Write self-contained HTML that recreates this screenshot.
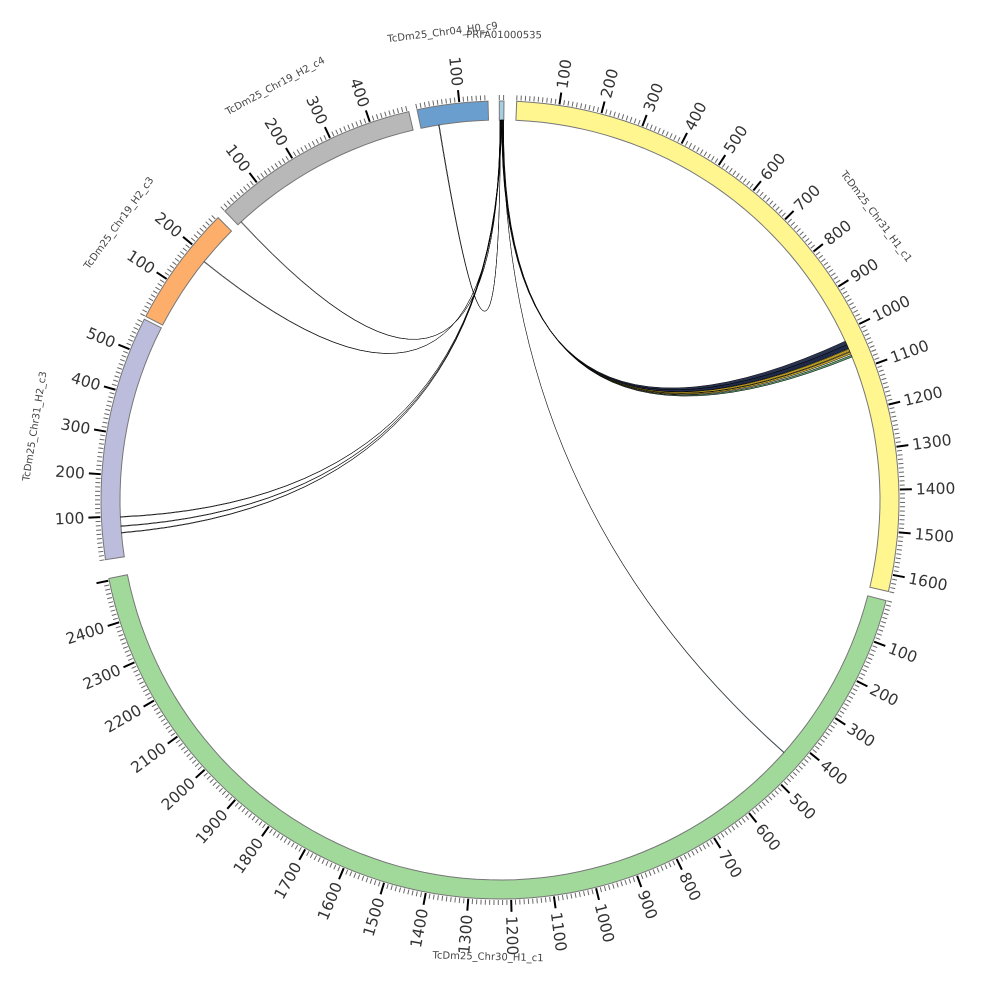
<!DOCTYPE html>
<html><head><meta charset="utf-8"><style>
html,body{margin:0;padding:0;background:#fff;width:1000px;height:1000px;overflow:hidden}
svg{display:block}
.tl{font-family:"DejaVu Sans","Liberation Sans",sans-serif;font-size:15.5px;fill:#333}
.nm{font-family:"DejaVu Sans","Liberation Sans",sans-serif;font-size:10px;fill:#444}
</style></head><body>
<svg id="s" width="1000" height="1000" viewBox="0 0 1000 1000">
<g id="ideo"></g><g id="ticks"></g><g id="chords"></g>
<g id="L0"><text class="tl">100</text><text class="tl">200</text><text class="tl">300</text><text class="tl">400</text><text class="tl">500</text><text class="tl">600</text><text class="tl">700</text><text class="tl">800</text><text class="tl">900</text><text class="tl">1000</text><text class="tl">1100</text><text class="tl">1200</text><text class="tl">1300</text><text class="tl">1400</text><text class="tl">1500</text><text class="tl">1600</text></g>
<g id="L1"><text class="tl">100</text><text class="tl">200</text><text class="tl">300</text><text class="tl">400</text><text class="tl">500</text><text class="tl">600</text><text class="tl">700</text><text class="tl">800</text><text class="tl">900</text><text class="tl">1000</text><text class="tl">1100</text><text class="tl">1200</text><text class="tl">1300</text><text class="tl">1400</text><text class="tl">1500</text><text class="tl">1600</text><text class="tl">1700</text><text class="tl">1800</text><text class="tl">1900</text><text class="tl">2000</text><text class="tl">2100</text><text class="tl">2200</text><text class="tl">2300</text><text class="tl">2400</text></g>
<g id="L2"><text class="tl">100</text><text class="tl">200</text><text class="tl">300</text><text class="tl">400</text><text class="tl">500</text></g>
<g id="L3"><text class="tl">100</text><text class="tl">200</text></g>
<g id="L4"><text class="tl">100</text><text class="tl">200</text><text class="tl">300</text><text class="tl">400</text></g>
<g id="L5"><text class="tl">100</text></g>
<g id="L6"></g>
<g id="names">
<text class="nm">TcDm25_Chr31_H1_c1</text>
<text class="nm">TcDm25_Chr30_H1_c1</text>
<text class="nm">TcDm25_Chr31_H2_c3</text>
<text class="nm">TcDm25_Chr19_H2_c3</text>
<text class="nm">TcDm25_Chr19_H2_c4</text>
<text class="nm">TcDm25_Chr04_H0_c9</text>
<text class="nm">PRFA01000535</text>
</g>
</svg>
<script>
var C=500,R0=380,R1=399,K=0.0615,NS="http://www.w3.org/2000/svg";
function P(t,r){var a=t*Math.PI/180;return [C+r*Math.sin(a),C-r*Math.cos(a)];}
function el(n,a,p){var e=document.createElementNS(NS,n);for(var k in a)e.setAttribute(k,a[k]);p.appendChild(e);return e;}
var segs=[[2.4,1640,"#fff68f"],[104.6,2505,"#a1d99b"],[261.4,578,"#bcbddc"],[297.4,287,"#fdae6b"],[316.4,494,"#b8b8b8"],[348,167,"#6a9ecf"],[359.9,11,"#a6cee3"]];
var gI=document.getElementById("ideo"),gT=document.getElementById("ticks");
segs.forEach(function(s,i){
 var a0=s[0],a1=s[0]+s[1]*K,pts=[],n=Math.max(2,Math.ceil((a1-a0)/2));
 for(var j=0;j<=n;j++)pts.push(P(a0+(a1-a0)*j/n,R1));
 for(var j=n;j>=0;j--)pts.push(P(a0+(a1-a0)*j/n,R0));
 el("polygon",{points:pts.map(function(p){return p[0].toFixed(1)+","+p[1].toFixed(1)}).join(" "),fill:s[2],stroke:"#777","stroke-width":1},gI);
 var d="",dm="";
 for(var u=0;u<=s[1];u+=10){var t=a0+u*K;
  if(u%100==0&&u>0){var p=P(t,R1+1),q=P(t,R1+13);dm+="M"+p[0]+" "+p[1]+"L"+q[0]+" "+q[1];}
  else{var p=P(t,R1+1),q=P(t,R1+6);d+="M"+p[0]+" "+p[1]+"L"+q[0]+" "+q[1];}}
 el("path",{d:d,stroke:"#666","stroke-width":1,fill:"none"},gT);
 el("path",{d:dm,stroke:"#000","stroke-width":2,fill:"none"},gT);
 var L=document.getElementById("L"+i).children;
 for(var k=0;k<L.length;k++){var t=a0+(k+1)*100*K,tt=((t%360)+360)%360,p=P(t,R1+17);
  if(tt<180){L[k].setAttribute("transform","translate("+p[0]+","+p[1]+") rotate("+(tt-90)+")");L[k].setAttribute("dy","0.35em");}
  else{L[k].setAttribute("transform","translate("+p[0]+","+p[1]+") rotate("+(tt-270)+")");L[k].setAttribute("text-anchor","end");L[k].setAttribute("dy","0.35em");}}
});
var nm=document.getElementById("names").children;
var nmA=[53,181.5,279,306,331.5,353,0.5];
for(var i=0;i<nm.length;i++){var t=nmA[i],r=(i==1?460:(i==6?462:468)),p=P(t,r);var rot=t;
 while(rot>90)rot-=180;while(rot<=-90)rot+=180;
 nm[i].setAttribute("transform","translate("+p[0]+","+p[1]+") rotate("+rot+")");nm[i].setAttribute("text-anchor","middle");}
var gC=document.getElementById("chords");
function rib(a0,a1,b0,b1,fill,sw){var p0=P(a0,R0),p1=P(a1,R0),q0=P(b0,R0),q1=P(b1,R0);
 var d="M"+p0+" Q"+C+","+C+" "+q1+" L"+q0+" Q"+C+","+C+" "+p1+"Z";
 el("path",{d:d,fill:fill,stroke:"#000","stroke-width":sw||0.5},gC);}
rib(0.25,0.35,65.3,65.9,"#2a3350");
rib(0.3,0.4,65.9,66.5,"#1e2a48");
rib(0.35,0.45,66.6,67.0,"#b89a20");
rib(0.4,0.5,67.1,67.4,"#c8a828");
rib(0.45,0.55,67.6,67.9,"#5a9a6a");
rib(0.2,0.22,265.0,265.1,"#fff");
rib(0.15,0.17,266.0,266.1,"#fff");
rib(0.1,0.12,267.4,267.5,"#fff");
rib(0.5,0.52,131.6,131.7,"#6a8aa0",0.4);
rib(0.05,0.07,350.7,350.8,"#fff");
rib(0.0,0.02,308.8,308.9,"#fff");
rib(0.0,0.02,317.0,317.1,"#fff");
</script>
</body></html>
